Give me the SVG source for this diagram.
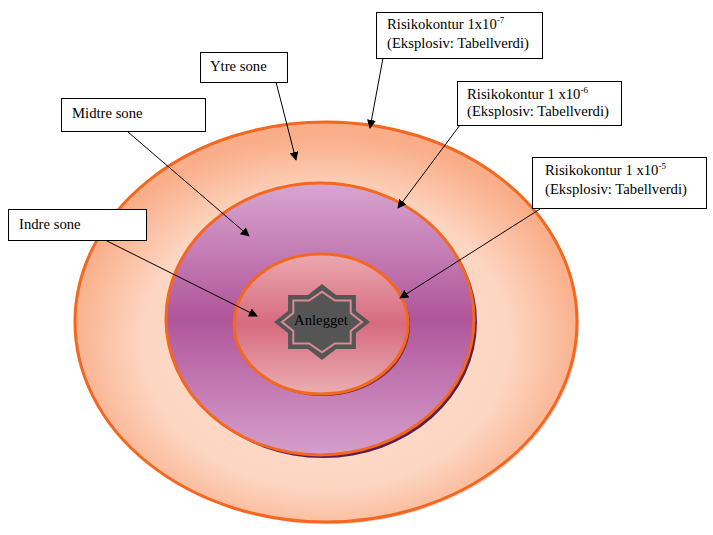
<svg xmlns="http://www.w3.org/2000/svg" width="713" height="535" viewBox="0 0 713 535">
<style>
.lbl{fill:#fff;stroke:#000;stroke-width:1}
.t{font-family:"Liberation Serif","Times New Roman",serif;font-size:14.7px;fill:#000}
.sup{font-size:9px}
.con{stroke:#000;stroke-width:1;fill:none;marker-end:url(#ah)}
.ring{stroke:#f4671f;stroke-width:3}
</style>
<defs>
<marker id="ah" viewBox="0 0 10 10" refX="9" refY="5" markerWidth="9" markerHeight="9" markerUnits="userSpaceOnUse" orient="auto">
<path d="M0,0 L10,5 L0,10 z" fill="#000"/>
</marker>
<radialGradient id="gOuter" cx="50%" cy="55%" r="52%">
<stop offset="0" stop-color="#fde0d0"/>
<stop offset="0.7" stop-color="#fdd6c2"/>
<stop offset="1" stop-color="#f9ad88"/>
</radialGradient>
<linearGradient id="gMid" x1="0" y1="0" x2="0" y2="1">
<stop offset="0" stop-color="#d8a6cf"/>
<stop offset="0.5" stop-color="#b0559a"/>
<stop offset="1" stop-color="#d59fcb"/>
</linearGradient>
<linearGradient id="gIn" x1="0" y1="0" x2="0" y2="1">
<stop offset="0" stop-color="#eca8b0"/>
<stop offset="0.5" stop-color="#d66b7f"/>
<stop offset="1" stop-color="#eaaeb2"/>
</linearGradient>
</defs>

<g id="ytre-ring">
<ellipse cx="328" cy="324" rx="251" ry="200" fill="#c9a79a" opacity="0.5"/>
<ellipse class="ring" cx="326" cy="322" rx="251" ry="200" fill="url(#gOuter)"/>
</g>
<g id="midtre-ring">
<ellipse cx="323" cy="322" rx="154" ry="136" fill="#5e1f4c"/>
<ellipse class="ring" cx="320" cy="319" rx="154" ry="136" fill="url(#gMid)"/>
</g>
<g id="indre-ring">
<ellipse cx="323" cy="326" rx="87" ry="70" fill="#7a2d3c"/>
<ellipse class="ring" cx="321" cy="324" rx="87" ry="70" fill="url(#gIn)"/>
</g>

<g id="anlegget">
<polygon points="370,322 355.9,310.9 355.9,295.1 336.1,295.1 322,284 307.9,295.1 288.1,295.1 288.1,310.9 274,322 288.1,333.1 288.1,348.9 307.9,348.9 322,360 336.1,348.9 355.9,348.9 355.9,333.1" fill="#555555"/>
<polygon points="362,322 350.7,313.1 350.7,300.5 334.9,300.5 322,291.6 309.1,300.5 293.3,300.5 293.3,313.1 282,322 293.3,330.9 293.3,343.5 309.1,343.5 322,352.4 334.9,343.5 350.7,343.5 350.7,330.9" fill="none" stroke="#d98a92" stroke-width="2"/>
<text class="t" x="321" y="325" text-anchor="middle">Anlegget</text>
</g>

<g id="connectors">
<line class="con" x1="383" y1="58" x2="370" y2="128"/>
<line class="con" x1="460" y1="125" x2="398" y2="208"/>
<line class="con" x1="540" y1="209" x2="400" y2="298"/>
<line class="con" x1="276" y1="82" x2="296" y2="160"/>
<line class="con" x1="128" y1="132" x2="249" y2="236"/>
<line class="con" x1="105" y1="240" x2="257" y2="316"/>
</g>

<g id="label-kontur7">
<rect class="lbl" x="376.5" y="12.5" width="166" height="46"/>
<text class="t" x="387" y="29">Risikokontur 1x10<tspan class="sup" dy="-6">-7</tspan></text>
<text class="t" x="387" y="48">(Eksplosiv: Tabellverdi)</text>
</g>
<g id="label-kontur6">
<rect class="lbl" x="457.5" y="81.5" width="164" height="44"/>
<text class="t" x="467" y="99">Risikokontur 1 x10<tspan class="sup" dy="-6">-6</tspan></text>
<text class="t" x="467" y="116">(Eksplosiv: Tabellverdi)</text>
</g>
<g id="label-kontur5">
<rect class="lbl" x="532.5" y="157.5" width="174" height="51"/>
<text class="t" x="545" y="175">Risikokontur 1 x10<tspan class="sup" dy="-6">-5</tspan></text>
<text class="t" x="545" y="194">(Eksplosiv: Tabellverdi)</text>
</g>
<g id="label-ytre">
<rect class="lbl" x="200.5" y="52.5" width="87" height="30"/>
<text class="t" x="210" y="71">Ytre sone</text>
</g>
<g id="label-midtre">
<rect class="lbl" x="61.5" y="98.5" width="144" height="33"/>
<text class="t" x="72" y="118">Midtre sone</text>
</g>
<g id="label-indre">
<rect class="lbl" x="8.5" y="209.5" width="138" height="31"/>
<text class="t" x="19" y="229">Indre sone</text>
</g>
</svg>
